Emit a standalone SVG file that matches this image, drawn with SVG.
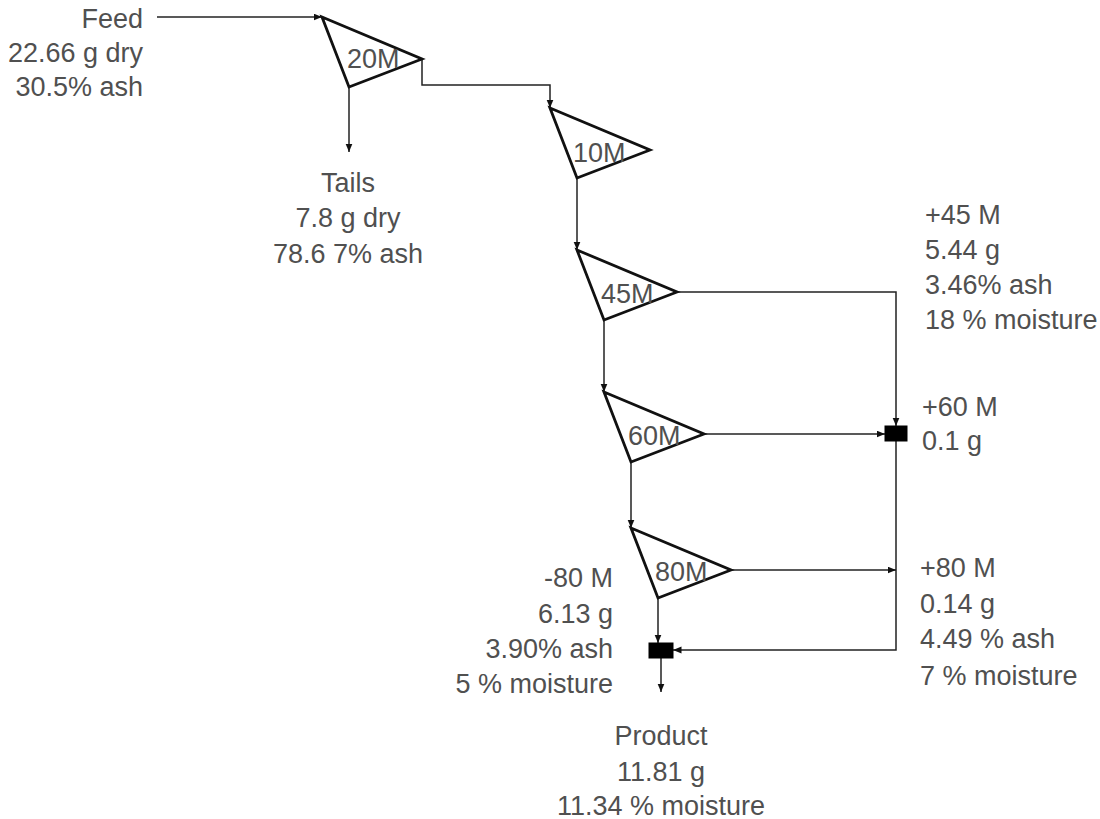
<svg xmlns="http://www.w3.org/2000/svg" width="1100" height="819" viewBox="0 0 1100 819">
<style>
.t{font-family:"Liberation Sans",Arial,sans-serif;font-size:27px;fill:#505050}
.e{text-anchor:end}
.m{text-anchor:middle}
.tri{fill:#fff;stroke:#111;stroke-width:2.8;stroke-linejoin:miter}
.c{fill:none;stroke:#222;stroke-width:1.5}
.box{fill:#000;stroke:#000;stroke-width:1}
</style>
<defs>
<marker id="arr" markerUnits="userSpaceOnUse" markerWidth="9" markerHeight="8" refX="8.5" refY="3.5" orient="auto">
<path d="M0,0 L8.5,3.5 L0,7 z" fill="#111"/>
</marker>
</defs>
<rect width="1100" height="819" fill="#fff"/>
<g id="connectors">
<path class="c" d="M157,17 H322" marker-end="url(#arr)"/>
<path class="c" d="M349,87 V152" marker-end="url(#arr)"/>
<path class="c" d="M422,59 V85 H550 V108" marker-end="url(#arr)"/>
<path class="c" d="M577,178 V250" marker-end="url(#arr)"/>
<path class="c" d="M604,320 V392" marker-end="url(#arr)"/>
<path class="c" d="M631,462 V528" marker-end="url(#arr)"/>
<path class="c" d="M677,292 H896 V426" marker-end="url(#arr)"/>
<path class="c" d="M704,434 H885" marker-end="url(#arr)"/>
<path class="c" d="M896,441 V650 H673" marker-end="url(#arr)"/>
<path class="c" d="M731,570 H896" marker-end="url(#arr)"/>
<path class="c" d="M658,598 V643" marker-end="url(#arr)"/>
<path class="c" d="M661,658 V692" marker-end="url(#arr)"/>
</g>
<g id="feed">
<text class="t e" x="143" y="28">Feed</text>
<text class="t e" x="143" y="62">22.66 g dry</text>
<text class="t e" x="143" y="96">30.5% ash</text>
</g>
<g id="s20M">
<polygon class="tri" points="322,17 422,59 349,87"/>
<text class="t" x="347" y="68">20M</text>
</g>
<g id="tails">
<text class="t m" x="348" y="192">Tails</text>
<text class="t m" x="348" y="227">7.8 g dry</text>
<text class="t m" x="348" y="263">78.6 7% ash</text>
</g>
<g id="s10M">
<polygon class="tri" points="550,108 650,150 577,178"/>
<text class="t" x="573" y="162">10M</text>
</g>
<g id="s45M">
<polygon class="tri" points="577,250 677,292 604,320"/>
<text class="t" x="601" y="303">45M</text>
</g>
<g id="s60M">
<polygon class="tri" points="604,392 704,434 631,462"/>
<text class="t" x="628" y="445">60M</text>
</g>
<g id="s80M">
<polygon class="tri" points="631,528 731,570 658,598"/>
<text class="t" x="655" y="581">80M</text>
</g>
<g id="junction1">
<rect class="box" x="885" y="426" width="22" height="15"/>
</g>
<g id="junction2">
<rect class="box" x="649" y="643" width="24" height="15"/>
</g>
<g id="plus45">
<text class="t" x="925" y="224">+45 M</text>
<text class="t" x="925" y="259">5.44 g</text>
<text class="t" x="925" y="294">3.46% ash</text>
<text class="t" x="925" y="329">18 % moisture</text>
</g>
<g id="plus60">
<text class="t" x="922" y="416">+60 M</text>
<text class="t" x="922" y="450">0.1 g</text>
</g>
<g id="plus80">
<text class="t" x="920" y="577">+80 M</text>
<text class="t" x="920" y="613">0.14 g</text>
<text class="t" x="920" y="648">4.49 % ash</text>
<text class="t" x="920" y="685">7 % moisture</text>
</g>
<g id="minus80">
<text class="t e" x="613" y="587">-80 M</text>
<text class="t e" x="613" y="623">6.13 g</text>
<text class="t e" x="613" y="658">3.90% ash</text>
<text class="t e" x="613" y="693">5 % moisture</text>
</g>
<g id="product">
<text class="t m" x="661" y="745">Product</text>
<text class="t m" x="661" y="781">11.81 g</text>
<text class="t m" x="661" y="815">11.34 % moisture</text>
</g>
</svg>
